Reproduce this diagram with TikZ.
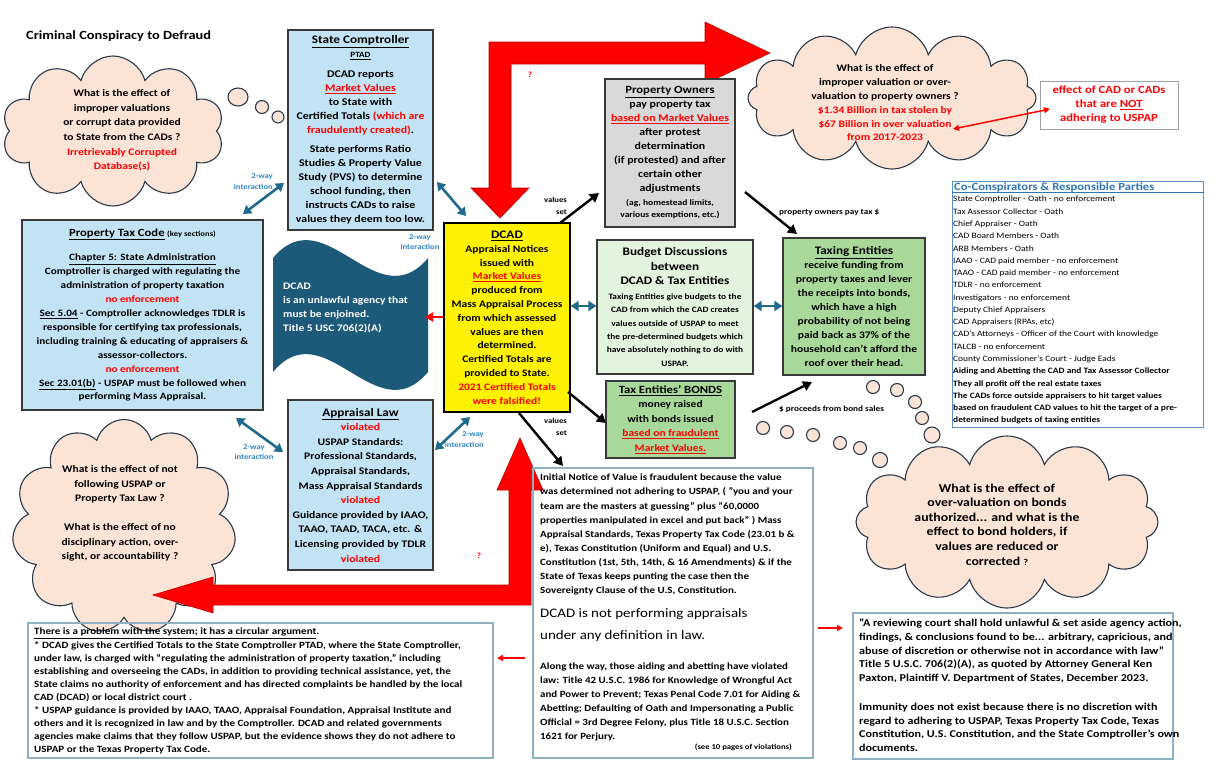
\documentclass[tikz,border=0pt]{standalone}
\usepackage{fontspec}
\setmainfont{Carlito}[FakeStretch=1.15]
\usetikzlibrary{arrows.meta,shapes.symbols,calc}
\definecolor{lblue}{HTML}{C2E3F4}
\definecolor{bline}{HTML}{3A3A3A}
\definecolor{ggray}{HTML}{D9D9D9}
\definecolor{lgreen}{HTML}{E2F4DE}
\definecolor{mgreen}{HTML}{A9D99A}
\definecolor{myteal}{HTML}{1F6A8C}
\definecolor{flagc}{HTML}{1D5A7A}
\definecolor{peach}{HTML}{FBE3D6}
\definecolor{cloudline}{HTML}{2B3A4A}
\definecolor{lblc}{HTML}{2E86C8}
\definecolor{cob}{HTML}{2E75B6}
\definecolor{noteline}{HTML}{8FAFC5}
\definecolor{redbox}{HTML}{A0A0A0}
\newcommand{\myfs}[2]{\fontsize{#1}{#2}\selectfont}
\newcommand{\myred}[1]{\textcolor{red}{#1}}
\begin{document}
\begin{tikzpicture}[x=1pt,y=-1pt,
  bx/.style={draw=bline, line width=1.2pt, align=center, inner sep=0pt, font=\bfseries},
  cloudnode/.style={cloud, draw=cloudline, fill=peach, line width=1.1pt, cloud ignores aspect, inner sep=0pt},
  bubble/.style={draw=cloudline, fill=peach, line width=1.1pt},
  twoway/.style={myteal, line width=2.6pt, {Triangle[length=8pt,width=10pt]}-{Triangle[length=8pt,width=10pt]}},
  blk/.style={black, line width=2.4pt, -{Triangle[length=9pt,width=10pt]}},
  lbl/.style={text=lblc, font=\bfseries\myfs{7.5}{10.5}, inner sep=0pt},
  note/.style={draw=noteline, line width=1.1pt, inner sep=0pt},
  txt/.style={inner sep=0pt, align=left, font=\bfseries},
  ctxt/.style={inner sep=0pt, align=center, font=\bfseries},
  bigred/.style={fill=red, draw=red!75!black, line width=0.6pt},
  redarr/.style={red, line width=2.6pt, -{Triangle[length=8pt,width=9pt]}},
  thinred/.style={red, line width=1.5pt, -{Triangle[length=6pt,width=6pt]}},
]
\useasboundingbox (0,0) rectangle (1225,774);
\fill[white] (0,0) rectangle (1225,774);

% title
\node[txt, anchor=west, font=\bfseries\myfs{12.5}{15}] (title) at (26,36) {Criminal Conspiracy to Defraud};

% clouds
\node[cloudnode, cloud puffs=10, minimum width=222pt, minimum height=150pt] (cloudA) at (113,131) {};
\node[cloudnode, cloud puffs=12, minimum width=288pt, minimum height=142pt] (cloudB) at (892,98) {};
\node[cloudnode, cloud puffs=11, minimum width=224pt, minimum height=215pt] (cloudC) at (124,527) {};
\node[cloudnode, cloud puffs=12, minimum width=302pt, minimum height=172pt] (cloudD) at (1007,522) {};

% bubbles
\draw[bubble] (238,97) ellipse (10pt and 9pt);
\draw[bubble] (262,107) circle (6.5pt);
\draw[bubble] (278,117) circle (6pt);
\foreach \p/\r in {{(873,387)}/6.5,{(897,390)}/6.5,{(915,402)}/6.5,{(922,418)}/6.5,{(932,435)}/8,
                   {(763,428)}/6.5,{(787,432)}/6.5,{(813,435)}/6.5,{(840,443)}/6.5,{(860,448)}/6.5,{(880,460)}/7.5}
  \draw[bubble] \p circle (\r pt);

% cloud texts
\node[ctxt, font=\bfseries\myfs{10}{14.6}] (cAtxt) at (122,130.5) {What is the effect of\\ improper valuations\\ or corrupt data provided\\ to State from the CADs ?\\ \myred{Irretrievably Corrupted}\\ \myred{Database(s)}};
\node[ctxt, font=\bfseries\myfs{10}{13.8}] (cBtxt) at (885,103) {What is the effect of\\ improper valuation or over-\\ valuation to property owners ?\\ \myred{\$1.34 Billion in tax stolen by}\\ \myred{\$67 Billion in over valuation}\\ \myred{from 2017-2023}};
\node[ctxt, font=\bfseries\myfs{10}{14.5}] (cCtxt) at (120,513.5) {What is the effect of not\\ following USPAP or\\ Property Tax Law ?\\[14.5pt] What is the effect of no\\ disciplinary action, over-\\ sight, or accountability ?};
\node[ctxt, font=\bfseries\myfs{12}{14.6}] (cDtxt) at (997,524.5) {What is the effect of\\ over-valuation on bonds\\ authorized... and what is the\\ effect to bond holders, if\\ values are reduced or\\ corrected {\myfs{9}{10}?}};

% big red arrows
\path[bigred] (489,188) -- (489,42) -- (705,42) -- (705,22) -- (770,53) -- (705,84) -- (705,64) -- (511,64) -- (511,188) -- (529,188) -- (500,218) -- (471,188) -- cycle;
\path[bigred] (531,490) -- (543,490) -- (520,438) -- (497,490) -- (509,490) -- (509,585) -- (213,585) -- (213,577) -- (153,595) -- (213,613) -- (213,605) -- (531,605) -- cycle;
\node[ctxt, text=red, font=\bfseries\myfs{8}{10}] (q1) at (530,75) {?};
\node[ctxt, text=red, font=\bfseries\myfs{8}{10}] (q2) at (479,556) {?};

% flag
\fill[flagc] (273,258) .. controls (325,196) and (376,320) .. (428,258) -- (428,372) .. controls (376,434) and (325,310) .. (273,372) -- cycle;
\node[txt, anchor=north west, text=white, font=\bfseries\myfs{10}{14}] (flag) at (283,283) {DCAD\\ is an unlawful agency that\\ must be enjoined.\\ Title 5 USC 706(2)(A)};

% boxes
\node[bx, fill=lblue, minimum width=145pt, minimum height=200pt, font=\bfseries\myfs{10.3}{14}] (comp) at (360.5,130) {{\myfs{11.5}{14}\underline{State Comptroller}}\\ {\myfs{8}{10}\underline{PTAD}}\\[6pt] DCAD reports\\ \myred{\underline{Market Values}}\\ to State with\\ Certified Totals \myred{(which are}\\ \myred{fraudulently created)}.\\[5pt] State performs Ratio\\ Studies \& Property Value\\ Study (PVS) to determine\\ school funding, then\\ instructs CADs to raise\\ values they deem too low.};

\node[bx, fill=lblue, minimum width=241pt, minimum height=190pt, font=\bfseries\myfs{9.7}{13.9}] (ptc) at (142.5,315) {{\myfs{11}{14}\underline{Property Tax Code}} {\myfs{7.5}{10}(key sections)}\\[11pt] \underline{Chapter 5: State Administration}\\ Comptroller is charged with regulating the\\ administration of property taxation\\ \myred{no enforcement}\\ \underline{Sec 5.04} - Comptroller acknowledges TDLR is\\ responsible for certifying tax professionals,\\ including training \& educating of appraisers \&\\ assessor-collectors.\\ \myred{no enforcement}\\ \underline{Sec 23.01(b)} - USPAP must be followed when\\ performing Mass Appraisal.};

\node[bx, fill=yellow, line width=1.4pt, draw=black, minimum width=126pt, minimum height=189pt, font=\bfseries\myfs{10}{13.8}] (dcad) at (507,317.5) {{\myfs{11.5}{13.8}\underline{DCAD}}\\ Appraisal Notices\\ issued with\\ \myred{\underline{Market Values}}\\ produced from\\ Mass Appraisal Process\\ from which assessed\\ values are then\\ determined.\\ Certified Totals are\\ provided to State.\\ \myred{2021 Certified Totals}\\ \myred{were falsified!}};

\node[bx, fill=ggray, minimum width=130pt, minimum height=148pt, font=\bfseries\myfs{10.3}{14}] (owners) at (670,153) {{\myfs{11}{14}\underline{Property Owners}}\\ pay property tax\\ \myred{\underline{based on Market Values}}\\ after protest\\ determination\\ (if protested) and after\\ certain other\\ adjustments\\ {\myfs{8.3}{10}(ag, homestead limits,}\\[-2pt] {\myfs{8.3}{10}various exemptions, etc.)}};

\node[bx, fill=lgreen, minimum width=156pt, minimum height=134pt, font=\bfseries\myfs{8.2}{13.4}] (budget) at (675,307) {{\myfs{11.5}{14}Budget Discussions}\\[1pt] {\myfs{11.5}{14}between}\\[1pt] {\myfs{11.5}{14}DCAD \& Tax Entities}\\[1.5pt] Taxing Entities give budgets to the\\ CAD from which the CAD creates\\ values outside of USPAP to meet\\ the pre-determined budgets which\\ have absolutely nothing to do with\\ USPAP.};

\node[bx, fill=mgreen, minimum width=129pt, minimum height=77pt, font=\bfseries\myfs{10}{14.5}] (bonds) at (670.5,419.5) {{\myfs{11}{14}\underline{Tax Entities' BONDS}}\\ money raised\\ with bonds issued\\ \myred{\underline{based on fraudulent}}\\ \myred{\underline{Market Values.}}};

\node[bx, fill=mgreen, minimum width=142pt, minimum height=137pt, font=\bfseries\myfs{10}{13.9}] (taxing) at (854,306.5) {{\myfs{11.5}{14}\underline{Taxing Entities}}\\ receive funding from\\ property taxes and lever\\ the receipts into bonds,\\ which have a high\\ probability of not being\\ paid back as 37\% of the\\ household can't afford the\\ roof over their head.};

\node[bx, fill=lblue, minimum width=145pt, minimum height=170pt, font=\bfseries\myfs{10.1}{14.6}] (applaw) at (360.5,485) {{\myfs{11.5}{14}\underline{Appraisal Law}}\\ \myred{violated}\\ USPAP Standards:\\ Professional Standards,\\ Appraisal Standards,\\ Mass Appraisal Standards\\ \myred{violated}\\ Guidance provided by IAAO,\\ TAAO, TAAD, TACA, etc. \&\\ Licensing provided by TDLR\\ \myred{violated}};

\node[draw=redbox, line width=1pt, minimum width=138pt, minimum height=48pt, align=center, inner sep=0pt, text=red, font=\bfseries\myfs{11}{14}] (effect) at (1109,105) {effect of CAD or CADs\\ that are \underline{NOT}\\ adhering to USPAP};

% co-conspirators
\node[draw=cob!80, line width=1pt, minimum width=251pt, minimum height=246pt, inner sep=0pt] (cocon) at (1077.5,304) {};
\draw[cob, line width=1pt] ($(cocon.north west)+(0,12)$) -- ($(cocon.north east)+(0,12)$);
\node[txt, anchor=west, text=cob, font=\bfseries\myfs{11}{13}] (cohead) at (954,187.5) {Co-Conspirators \& Responsible Parties};
\node[txt, anchor=north west, font=\myfs{8.2}{12.28}] (colist) at (953,196) {State Comptroller - Oath - no enforcement\\ Tax Assessor Collector - Oath\\ Chief Appraiser - Oath\\ CAD Board Members - Oath\\ ARB Members - Oath\\ IAAO - CAD paid member - no enforcement\\ TAAO - CAD paid member - no enforcement\\ TDLR - no enforcement\\ Investigators - no enforcement\\ Deputy Chief Appraisers\\ CAD Appraisers (RPAs, etc)\\ CAD's Attorneys - Officer of the Court with knowledge\\ TALCB - no enforcement\\ County Commissioner's Court - Judge Eads\\ \textbf{Aiding and Abetting the CAD and Tax Assessor Collector}\\ \textbf{They all profit off the real estate taxes}\\ \textbf{The CADs force outside appraisers to hit target values}\\ \textbf{based on fraudulent CAD values to hit the target of a pre-}\\ \textbf{determined budgets of taxing entities}};

% initial notice box
\node[note, minimum width=280pt, minimum height=290pt] (notice) at (673,613) {};
\node[txt, anchor=north west, font=\bfseries\myfs{9.5}{14.1}] (notice1) at (540,474) {Initial Notice of Value is fraudulent because the value\\ was determined not adhering to USPAP, ( "you and your\\ team are the masters at guessing" plus "60,0000\\ properties manipulated in excel and put back" ) Mass\\ Appraisal Standards, Texas Property Tax Code (23.01 b \&\\ e), Texas Constitution (Uniform and Equal) and U.S.\\ Constitution (1st, 5th, 14th, \& 16 Amendments) \& if the\\ State of Texas keeps punting the case then the\\ Sovereignty Clause of the U.S, Constitution.};
\node[txt, anchor=north west, font=\myfs{13}{22}] (notice2) at (540,608.5) {DCAD is not performing appraisals\\ under any definition in law.};
\node[txt, anchor=north west, font=\bfseries\myfs{9.5}{14}] (notice3) at (540,662.5) {Along the way, those aiding and abetting have violated\\ law: Title 42 U.S.C. 1986 for Knowledge of Wrongful Act\\ and Power to Prevent; Texas Penal Code 7.01 for Aiding \&\\ Abetting; Defaulting of Oath and Impersonating a Public\\ Official = 3rd Degree Felony, plus Title 18 U.S.C. Section\\ 1621 for Perjury.};
\node[txt, anchor=east, font=\bfseries\myfs{7.5}{9}] (notice4) at (792,747) {(see 10 pages of violations)};

% bottom-left box
\node[note, minimum width=465pt, minimum height=135pt] (circ) at (260.5,690.5) {};
\node[txt, anchor=north west, font=\bfseries\myfs{9.6}{13.1}] (circtxt) at (34,628) {\underline{There is a problem with the system; it has a circular argument}.\\ * DCAD gives the Certified Totals to the State Comptroller PTAD, where the State Comptroller,\\ under law, is charged with “regulating the administration of property taxation,” including\\ establishing and overseeing the CADs, in addition to providing technical assistance, yet, the\\ State claims no authority of enforcement and has directed complaints be handled by the local\\ CAD (DCAD) or local district court .\\ * USPAP guidance is provided by IAAO, TAAO, Appraisal Foundation, Appraisal Institute and\\ others and it is recognized in law and by the Comptroller. DCAD and related governments\\ agencies make claims that they follow USPAP, but the evidence shows they do not adhere to\\ USPAP or the Texas Property Tax Code.};

% bottom-right box
\node[note, minimum width=320pt, minimum height=146pt] (court) at (1013,686) {};
\node[txt, anchor=north west, font=\bfseries\myfs{10.5}{13.7}] (courttxt) at (859,619) {"A reviewing court shall hold unlawful \& set aside agency action,\\ findings, \& conclusions found to be... arbitrary, capricious, and\\ abuse of discretion or otherwise not in accordance with law"\\ Title 5 U.S.C. 706(2)(A), as quoted by Attorney General Ken\\ Paxton, Plaintiff V. Department of States, December 2023.\\[15pt] Immunity does not exist because there is no discretion with\\ regard to adhering to USPAP, Texas Property Tax Code, Texas\\ Constitution, U.S. Constitution, and the State Comptroller's own\\ documents.};

% connector coordinates
\coordinate (a1) at (243,214); \coordinate (a2) at (284,183);
\coordinate (b1) at (437,182); \coordinate (b2) at (466,216);
\coordinate (e1) at (236,418); \coordinate (e2) at (283,452);
\coordinate (f1) at (435,450); \coordinate (f2) at (470,417);
\draw[twoway] (a1) -- (a2);
\draw[twoway] (b1) -- (b2);
\draw[twoway] (dcad.east |- 0,306) -- (budget.west |- 0,306);
\draw[twoway] (budget.east |- 0,306) -- (taxing.west |- 0,306);
\draw[twoway] (e1) -- (e2);
\draw[twoway] (f1) -- (f2);
\node[lbl, align=right, anchor=east] (lA) at (273,181.5) {2-way\\ interaction};
\node[lbl, align=center] (lB) at (420,242) {2-way\\ interaction};
\node[lbl, align=center] (lE) at (254,452) {2-way\\ interaction};
\node[lbl, align=right, anchor=east] (lF) at (484,439.5) {2-way\\ interaction};

% black arrows
\coordinate (g1) at (560,223); \coordinate (g2) at (599,193);
\coordinate (h1) at (745,192); \coordinate (h2) at (797,234);
\coordinate (i1) at (568,392); \coordinate (i2) at (606,423);
\coordinate (j1) at (519,413); \coordinate (j2) at (563,466);
\coordinate (k1) at (752,412); \coordinate (k2) at (812,382);
\draw[blk] (g1) -- (g2);
\draw[blk] (h1) -- (h2);
\draw[blk] (i1) -- (i2);
\draw[blk] (j1) -- (j2);
\draw[blk] (k1) -- (k2);
\node[txt, align=right, anchor=east, font=\bfseries\myfs{7.5}{12}] (vs1) at (567,206) {values\\ set};
\node[txt, align=right, anchor=east, font=\bfseries\myfs{7.5}{12}] (vs2) at (567,427) {values\\ set};
\node[txt, anchor=west, font=\bfseries\myfs{8}{10}] (paytax) at (779,212.5) {property owners pay tax \$};
\node[txt, anchor=west, font=\bfseries\myfs{8}{10}] (proceeds) at (779,409) {\$ proceeds from bond sales};

% red arrows
\draw[redarr] (dcad.west |- 0,317) -- (425,317);
\coordinate (m1) at (525,658); \coordinate (m2) at (497,658);
\coordinate (n1) at (818,628); \coordinate (n2) at (843,628);
\coordinate (o1) at (953,129); \coordinate (o2) at (1050,109);
\draw[thinred] (m1) -- (m2);
\draw[thinred] (n1) -- (n2);
\draw[red, line width=1.5pt, {Triangle[length=6pt,width=6pt]}-{Triangle[length=6pt,width=6pt]}] (o1) -- (o2);
\end{tikzpicture}
\end{document}
